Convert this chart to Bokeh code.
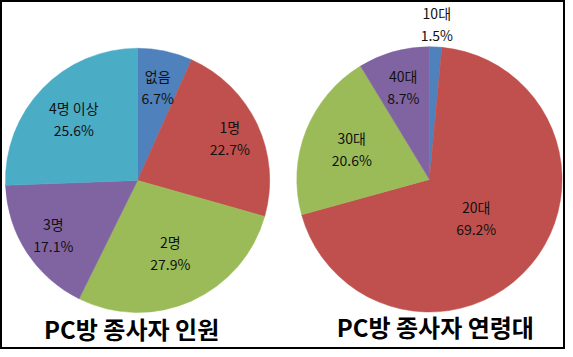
import math
from bokeh.plotting import figure
from bokeh.models import Range1d, ColumnDataSource
from bokeh.core.properties import value
from bokeh.embed import file_html
from bokeh.resources import INLINE

# ---- data ----
staff_labels = ["없음", "1명", "2명", "3명", "4명 이상"]
staff_values = [6.7, 22.7, 27.9, 17.1, 25.6]
staff_title = "PC방 종사자 인원"

age_labels = ["10대", "20대", "30대", "40대"]
age_values = [1.5, 69.2, 20.6, 8.7]
age_title = "PC방 종사자 연령대"

# ---- style / layout ----
staff_colors = ["#4F81BD", "#C0504D", "#9BBB59", "#8064A2", "#4BACC6"]
age_colors = ["#4F81BD", "#C0504D", "#9BBB59", "#8064A2"]
staff_label_r = [0.73, 0.77, 0.61, 0.76, 0.67]
age_label_r = [1.18, 0.46, 0.63, 0.73]

W_REF, H_REF = 573, 357
FONT = "Noto Sans CJK KR"

p = figure(width=565, height=349, output_backend="svg", toolbar_location=None,
           x_range=Range1d(0, W_REF), y_range=Range1d(0, H_REF),
           min_border=0)
p.axis.visible = False
p.grid.visible = False
p.background_fill_color = "white"
p.border_fill_color = "white"
p.outline_line_color = "black"
p.outline_line_width = 3


def draw_pie(cx, cy_ref, R, labels, values, colors, lab_r, title, tx, ty_ref):
    cy = H_REF - cy_ref
    total = sum(values)
    starts, ends, lx, ly, pct = [], [], [], [], []
    cum = 0.0
    for v, f in zip(values, lab_r):
        a0 = math.pi / 2 - cum / total * 2 * math.pi
        cum += v
        a1 = math.pi / 2 - cum / total * 2 * math.pi
        starts.append(a0)
        ends.append(a1)
        mid = (a0 + a1) / 2
        lx.append(cx + f * R * math.cos(mid))
        ly.append(cy + f * R * math.sin(mid))
        pct.append(f"{v}%")
    src = ColumnDataSource(dict(x=[cx] * len(values), y=[cy] * len(values),
                                s=starts, e=ends, c=colors,
                                lx=lx, ly=ly, name=labels, pct=pct))
    p.wedge(x="x", y="y", radius=R, start_angle="s", end_angle="e",
            direction="clock", fill_color="c", line_color="c", line_width=0.5,
            source=src)
    p.text(x="lx", y="ly", text="name", source=src, y_offset=-11,
           text_align="center", text_baseline="middle",
           text_font=value(FONT), text_font_size="14px", text_color="#111111")
    p.text(x="lx", y="ly", text="pct", source=src, y_offset=11,
           text_align="center", text_baseline="middle",
           text_font=value(FONT), text_font_size="14px", text_color="#111111")
    p.text(x=[tx], y=[H_REF - ty_ref], text=[title],
           text_align="center", text_baseline="middle",
           text_font=value(FONT), text_font_size="24px", text_font_style="bold",
           text_color="black")


draw_pie(139, 184, 134, staff_labels, staff_values, staff_colors, staff_label_r,
         staff_title, 133, 336)
draw_pie(435, 183, 134.5, age_labels, age_values, age_colors, age_label_r,
         age_title, 441, 333)

open("out.html", "w").write(file_html(p, INLINE))
